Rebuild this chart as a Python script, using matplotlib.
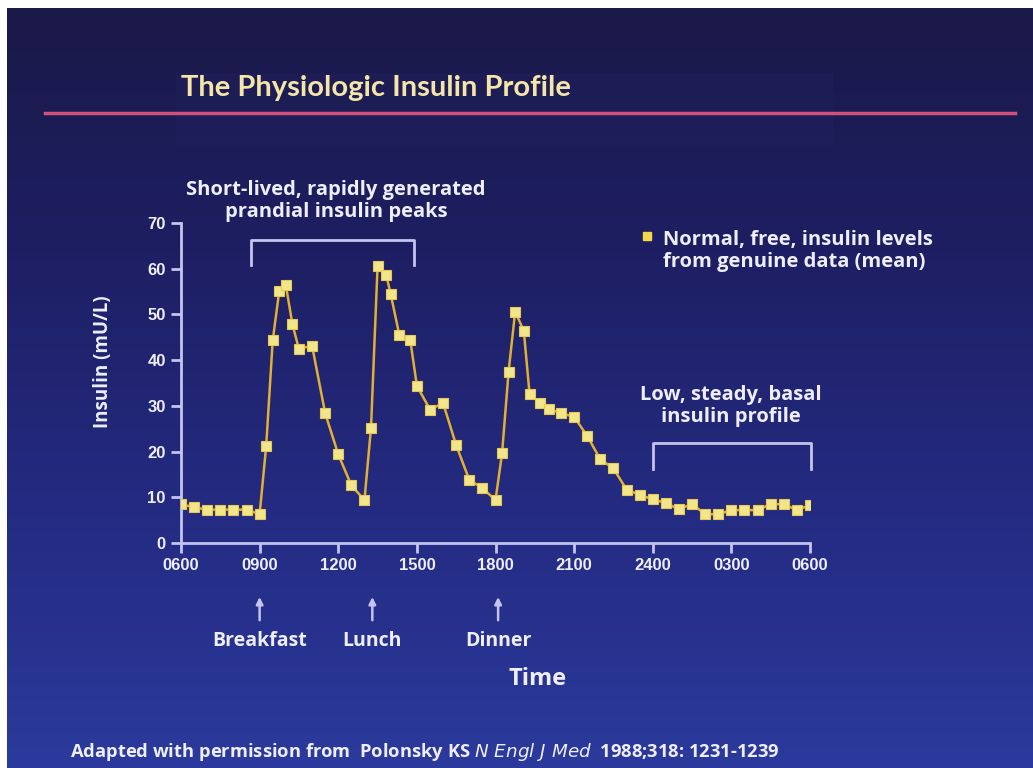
import numpy as np
import matplotlib
matplotlib.use("Agg")
import matplotlib.pyplot as plt
from matplotlib.lines import Line2D
from matplotlib.patches import Rectangle
from matplotlib.colors import LinearSegmentedColormap

# hours after 06:00, and mean free insulin (mU/L)
hours = [0, 0.5, 1, 1.5, 2, 2.5, 3, 3.25, 3.5, 3.75, 4, 4.25, 4.5, 5, 5.5, 6, 6.5, 7,
         7.25, 7.5, 7.83, 8, 8.33, 8.75, 9, 9.5, 10, 10.5, 11, 11.5, 12,
         12.25, 12.5, 12.75, 13.08, 13.3, 13.7, 14.05, 14.5, 15, 15.5, 16, 16.5, 17, 17.5, 18,
         18.5, 19, 19.5, 20, 20.5, 21, 21.5, 22, 22.5, 23, 23.5, 24]
insulin = [8.5, 7.8, 7.3, 7.3, 7.3, 7.3, 6.3, 21.2, 44.3, 55.2, 56.4, 47.9, 42.4, 43.2, 28.4, 19.4, 12.6, 9.4,
           25.2, 60.5, 58.6, 54.5, 45.5, 44.3, 34.4, 29.2, 30.6, 21.4, 13.8, 12.0, 9.4,
           19.6, 37.5, 50.6, 46.4, 32.6, 30.6, 29.3, 28.4, 27.6, 23.4, 18.3, 16.3, 11.7, 10.5, 9.6,
           8.7, 7.4, 8.5, 6.3, 6.3, 7.2, 7.2, 7.2, 8.5, 8.5, 7.2, 8.3]

tick_hours = [0, 3, 6, 9, 12, 15, 18, 21, 24]
tick_labels = ["0600", "0900", "1200", "1500", "1800", "2100", "2400", "0300", "0600"]
y_ticks = [0, 10, 20, 30, 40, 50, 60, 70]

meals = ["Breakfast", "Lunch", "Dinner"]
meal_hours = [3.0, 7.3, 12.1]

W, H = 1033, 768
def px(x, y):
    # pixel position -> figure fraction
    return x / W, 1 - y / H

fig = plt.figure(figsize=(W / 100, H / 100), dpi=100)
fig.patch.set_facecolor("white")

# slide background, dark navy on top going to brighter blue at the bottom
bg = fig.add_axes([7 / W, 0, 1 - 7 / W, 1 - 8 / H])
cmap = LinearSegmentedColormap.from_list("slide", ["#1a1948", "#1e1f64", "#242b82", "#2b3a9c"])
grad = np.linspace(0, 1, 256).reshape(-1, 1)
bg.imshow(grad, aspect="auto", cmap=cmap, extent=[0, 1, 0, 1], origin="upper")
bg.add_patch(Rectangle((0.165, 0.82), 0.64, 0.095, color="#3a3f90", alpha=0.08, lw=0))
bg.set_axis_off()

txt = "#eeeefc"
axc = "#c4c4ee"
font = ["Open Sans", "DejaVu Sans"]

# title and pink rule
x0, y0 = px(181, 88)
fig.text(x0, y0, "The Physiologic Insulin Profile", color="#f3e6a8", fontsize=21,
         fontweight="bold", family=["Lato", "DejaVu Sans"], va="center", ha="left")
fig.add_artist(Line2D([45 / W, 1015 / W], [1 - 113 / H] * 2, transform=fig.transFigure,
                      color="#d4507c", lw=2.5))

# main plot
l, b = px(181, 543)
r, t = px(810, 223)
ax = fig.add_axes([l, b, r - l, t - b])
ax.set_facecolor("none")
ax.plot(hours, insulin, color="#e2b033", lw=1.8, marker="s", markersize=6.5,
        markerfacecolor="#f2e68c", markeredgecolor="#e8c850", markeredgewidth=0.8, zorder=3)
ax.set_xlim(0, 24)
ax.set_ylim(0, 70)
ax.set_xticks(tick_hours)
ax.set_xticklabels(tick_labels)
ax.set_yticks(y_ticks)
for s in ["top", "right"]:
    ax.spines[s].set_visible(False)
for s in ["left", "bottom"]:
    ax.spines[s].set_color(axc)
    ax.spines[s].set_linewidth(2)
ax.tick_params(colors=axc, width=2, length=7, direction="out", pad=4)
for lab in ax.get_xticklabels() + ax.get_yticklabels():
    lab.set_color(txt)
    lab.set_fontweight("bold")
    lab.set_fontsize(12)
    lab.set_family("Liberation Sans")

# y label
x0, y0 = px(103, 362)
fig.text(x0, y0, "Insulin (mU/L)", rotation=90, color=txt, fontsize=13.5, fontweight="bold",
         family=font, ha="center", va="center")

# bracket over the meal peaks
br = dict(color=axc, lw=2, clip_on=False)
ax.plot([2.67, 2.67, 8.9, 8.9], [60.8, 66.3, 66.3, 60.8], **br)
x0, y0 = px(336, 201)
fig.text(x0, y0, "Short-lived, rapidly generated\nprandial insulin peaks", color=txt,
         fontsize=14.5, fontweight="bold", family=font, ha="center", va="center", linespacing=1.1)

# bracket over the basal part
ax.plot([18.0, 18.0, 24.05, 24.05], [16.2, 21.9, 21.9, 16.2], **br)
x0, y0 = px(731, 406)
fig.text(x0, y0, "Low, steady, basal\ninsulin profile", color=txt,
         fontsize=14.5, fontweight="bold", family=font, ha="center", va="center", linespacing=1.1)

# legend
x0, y0 = px(647, 236)
fig.add_artist(Line2D([x0], [y0], transform=fig.transFigure, marker="s", markersize=6,
                      color="#f2d84a", lw=0))
x0, y0 = px(663, 251)
fig.text(x0, y0, "Normal, free, insulin levels\nfrom genuine data (mean)", color=txt,
         fontsize=14.5, fontweight="bold", family=font, ha="left", va="center", linespacing=1.1)

# meal arrows and labels
for m, h in zip(meals, meal_hours):
    ax.annotate("", xy=(h, -11.2), xytext=(h, -17.5), annotation_clip=False,
                arrowprops=dict(arrowstyle="-|>", color=axc, lw=1.8, mutation_scale=10))
    xm = ax.transData.transform((h, 0))[0] / W
    fig.text(xm, 1 - 641 / H, m, color=txt, fontsize=14, fontweight="bold", family=font,
             ha="center", va="center")

x0, y0 = px(538, 679)
fig.text(x0, y0, "Time", color=txt, fontsize=17, fontweight="bold", family=font,
         ha="center", va="center")

# source line
x0, y0 = px(70, 752)
fig.text(x0, y0, r"Adapted with permission from  Polonsky KS $\it{N\ Engl\ J\ Med}$  1988;318: 1231-1239",
         color=txt, fontsize=13.2, fontweight="bold", family=font, ha="left", va="center")

fig.savefig("out.png", dpi=100)
